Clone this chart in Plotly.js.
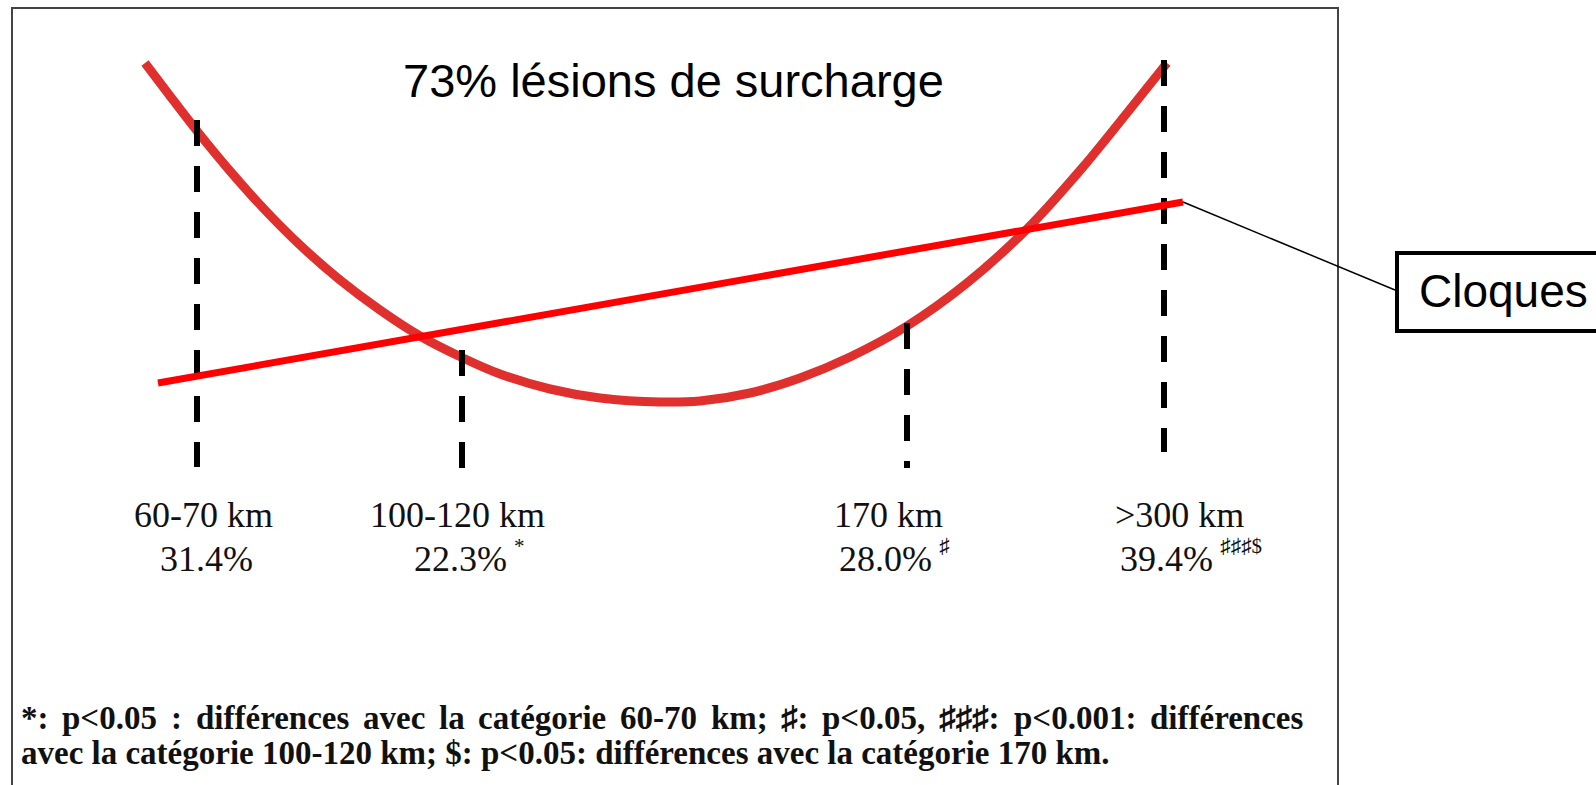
<!DOCTYPE html>
<html>
<head>
<meta charset="utf-8">
<script src="https://cdn.plot.ly/plotly-3.0.1.min.js"></script>
<style>html,body{margin:0;padding:0;background:#fff;}#chart{width:1596px;height:785px;}</style>
</head>
<body>
<div id="chart"></div>
<script>
// ---- data (schematic coordinates) ----
const categories = ['60-70 km', '100-120 km', '170 km', '>300 km'];
const percentages = [31.4, 22.3, 28.0, 39.4];
const significance = ['', '*', '\u266F', '\u266F\u266F\u266F$'];
const categoryX = [197, 462, 907, 1164];
const dashTopY = [120, 350, 323, 60];
const dashBottomY = [467, 468, 468, 452];
const nameX = [203, 457, 888, 1179];
const pctX = [206, 460, 885, 1166];

// U-shaped "lésions de surcharge" curve
const curveX = [145, 170, 197, 230, 265, 300, 340, 380, 420, 463, 500, 550, 600, 660, 700, 750, 800, 850, 907, 967, 1027, 1083, 1127, 1167];
const curveY = [63, 96, 131, 171, 210, 245, 280, 310, 336, 358, 374, 389, 398, 402, 401, 393, 378, 357, 326, 283, 229, 167, 113, 63];

// "Cloques" linear trend
const trendX = [158, 1183];
const trendY = [383, 202];

const titleText = '73% lésions de surcharge';
const calloutText = 'Cloques';
const footLine1 = '*: p<0.05 : différences avec la catégorie 60-70 km; \u266F: p<0.05, \u266F\u266F\u266F: p<0.001: différences';
const footLine2 = 'avec la catégorie 100-120 km; $: p<0.05: différences avec la catégorie 170 km.';

// ---- helpers ----
function esc(s) { return s.replace(/&/g, '&amp;').replace(/</g, '&lt;').replace(/>/g, '&gt;'); }
const ctx = document.createElement('canvas').getContext('2d');
function measure(text, font) { ctx.font = font; return ctx.measureText(text).width; }

// ---- traces ----
const traces = [];
traces.push({
  x: curveX, y: curveY, mode: 'lines', type: 'scatter', hoverinfo: 'skip',
  line: { color: '#e0302e', width: 9, shape: 'spline', smoothing: 0.8 }
});
categories.forEach((c, i) => {
  traces.push({
    x: [categoryX[i], categoryX[i]], y: [dashTopY[i], dashBottomY[i]],
    mode: 'lines', type: 'scatter', hoverinfo: 'skip',
    line: { color: '#000', width: 6, dash: '26px,20px' }
  });
});
traces.push({
  x: trendX, y: trendY, mode: 'lines', type: 'scatter', hoverinfo: 'skip',
  line: { color: '#ff0000', width: 7 }
});

// ---- annotations ----
const serif = 'Liberation Serif, Times New Roman, serif';
const sans = 'Liberation Sans, Arial, sans-serif';
const ann = [];
ann.push({ x: 673, y: 80, xref: 'x', yref: 'y', text: titleText, showarrow: false,
  xanchor: 'center', yanchor: 'middle', font: { family: sans, size: 47, color: '#000' } });

const labelSize = 36;
categories.forEach((c, i) => {
  ann.push({ x: nameX[i], y: 515, xref: 'x', yref: 'y', text: esc(c), showarrow: false,
    xanchor: 'center', yanchor: 'middle', font: { family: serif, size: labelSize, color: '#111' } });
  const pct = percentages[i].toFixed(1) + '%';
  ann.push({ x: pctX[i], y: 559, xref: 'x', yref: 'y', text: pct, showarrow: false,
    xanchor: 'center', yanchor: 'middle', font: { family: serif, size: labelSize, color: '#111' } });
  if (significance[i]) {
    const w = measure(pct, labelSize + 'px "Liberation Serif"');
    ann.push({ x: pctX[i] + w / 2 + 6, y: 546, xref: 'x', yref: 'y', text: esc(significance[i]), showarrow: false,
      xanchor: 'left', yanchor: 'middle', font: { family: serif, size: 21, color: '#111' } });
  }
});

// Cloques callout
ann.push({ x: 1417, y: 291, xref: 'x', yref: 'y', text: calloutText, showarrow: false,
  xanchor: 'left', yanchor: 'middle', font: { family: sans, size: 46, color: '#000' } });

// footnote, line 1 justified
const footSize = 33;
const footFont = 'bold ' + footSize + 'px "Liberation Serif"';
const footLeft = 20, footRight = 1302;
const words = footLine1.split(' ');
const widths = words.map(w => measure(w, footFont));
const sumW = widths.reduce((a, b) => a + b, 0);
const gap = (footRight - footLeft - sumW) / (words.length - 1);
let cx = footLeft;
words.forEach((w, i) => {
  ann.push({ x: cx, y: 718, xref: 'x', yref: 'y', text: esc(w), showarrow: false,
    xanchor: 'left', yanchor: 'middle', borderpad: 0,
    font: { family: serif, size: footSize, color: '#111', weight: 'bold' } });
  cx += widths[i] + gap;
});
ann.push({ x: footLeft, y: 753, xref: 'x', yref: 'y', text: esc(footLine2), showarrow: false,
  xanchor: 'left', yanchor: 'middle', borderpad: 0,
  font: { family: serif, size: footSize, color: '#111', weight: 'bold' } });

// ---- shapes ----
const shapes = [
  { type: 'rect', xref: 'x', yref: 'y', x0: 12, x1: 1338, y0: 8, y1: 800,
    line: { color: '#444', width: 2 }, layer: 'below' },
  { type: 'line', xref: 'x', yref: 'y', x0: trendX[1], y0: trendY[1], x1: 1395, y1: 290,
    line: { color: '#000', width: 1.5 } },
  { type: 'rect', xref: 'x', yref: 'y', x0: 1397, x1: 1610, y0: 253, y1: 331,
    line: { color: '#000', width: 4 }, fillcolor: '#fff' }
];

const layout = {
  width: 1596, height: 785,
  margin: { l: 0, r: 0, t: 0, b: 0 },
  paper_bgcolor: '#fff', plot_bgcolor: '#fff',
  showlegend: false,
  xaxis: { range: [0, 1596], visible: false, fixedrange: true },
  yaxis: { range: [785, 0], visible: false, fixedrange: true },
  annotations: ann,
  shapes: shapes
};

Plotly.newPlot('chart', traces, layout, { staticPlot: true, displayModeBar: false });
</script>
</body>
</html>
